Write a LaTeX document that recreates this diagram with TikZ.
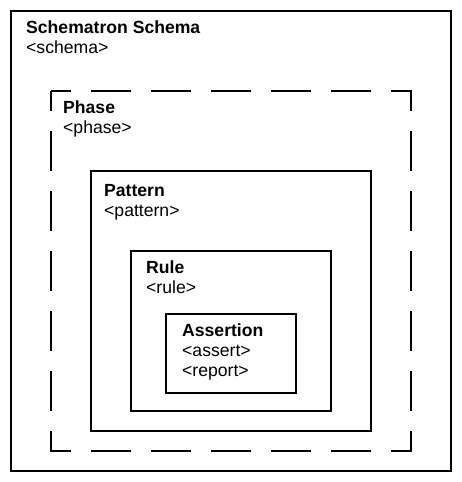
\documentclass[tikz,border=0pt]{standalone}
\usepackage{fontspec}
\setmainfont{Liberation Sans}
\begin{document}
\begin{tikzpicture}[x=1pt,y=-1pt,
  box/.style={draw=black, line width=2pt},
  dashbox/.style={draw=black, line width=2pt, dash pattern=on 40pt off 20pt, dash phase=20pt},
  lbl/.style={anchor=base west, inner sep=0pt, font=\fontsize{17.6}{20}\selectfont},
  title/.style={lbl, font=\fontsize{17.6}{20}\selectfont\bfseries}]
\useasboundingbox (0,0) rectangle (462,482);
% boxes
\draw[box] (11,11) rectangle (451,471);
\draw[dashbox] (51,91) -- (411,91) -- (411,451) -- (51,451) -- cycle;
\draw[box] (91,171) rectangle (371,431);
\draw[box] (131,251) rectangle (331,411);
\draw[box] (166,314) rectangle (296,393);
% labels
\node[title] (schemaT) at (26,33) {Schematron Schema};
\node[lbl]   (schemaE) at (26,53) {<schema>};
\node[title] (phaseT) at (63,113) {Phase};
\node[lbl]   (phaseE) at (63,133) {<phase>};
\node[title] (patternT) at (104,196) {Pattern};
\node[lbl]   (patternE) at (104,216) {<pattern>};
\node[title] (ruleT) at (146,273) {Rule};
\node[lbl]   (ruleE) at (146,293) {<rule>};
\node[title] (assertT) at (182,336) {Assertion};
\node[lbl]   (assertE) at (182,356) {<assert>};
\node[lbl]   (reportE) at (182,376) {<report>};
\end{tikzpicture}
\end{document}
